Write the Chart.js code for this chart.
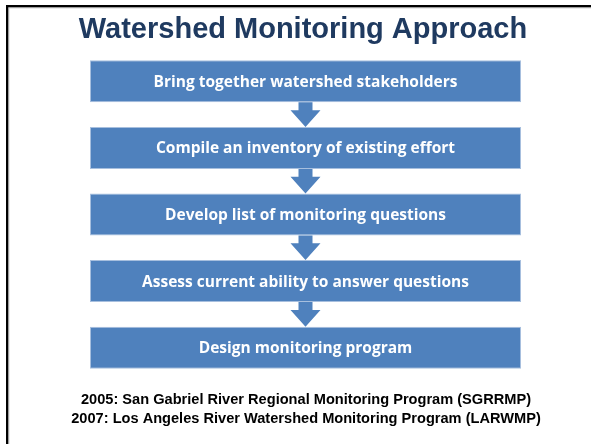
<!DOCTYPE html>
<html><head><meta charset="utf-8">
<script src="https://cdn.jsdelivr.net/npm/chart.js@4"></script>
<style>html,body{margin:0;padding:0;background:#fff}#wrap{width:591px;height:444px;position:relative}</style>
</head><body><div id="wrap"><canvas id="c" width="591" height="444"></canvas></div>
<script>
const title = "Watershed Monitoring Approach";
const steps = [
  "Bring together watershed stakeholders",
  "Compile an inventory of existing effort",
  "Develop list of monitoring questions",
  "Assess current ability to answer questions",
  "Design monitoring program"
];
const stepSpans = [[0,100],[0,100],[0,100],[0,100],[0,100]];
const footerLines = [
  "2005: San Gabriel River Regional Monitoring Program (SGRRMP)",
  "2007: Los Angeles River Watershed Monitoring Program (LARWMP)"
];

const decor = {
  id: 'decor',
  beforeDraw(chart){
    const ctx = chart.ctx;
    ctx.save();
    ctx.fillStyle = '#fff';
    ctx.fillRect(0,0,chart.width,chart.height);
    ctx.fillStyle = '#000';
    ctx.fillRect(6,5,chart.width-6,2.5);
    ctx.fillRect(6,5,2.5,chart.height-5);
    ctx.fillStyle = '#bbb';
    ctx.fillRect(8.5,7.5,chart.width-8.5,0.8);
    ctx.fillRect(8.5,7.5,0.8,chart.height-7.5);
    ctx.fillStyle = '#1F3A60';
    ctx.font = 'bold 29px "Liberation Sans", Arial, sans-serif';
    ctx.textAlign = 'center';
    ctx.textBaseline = 'middle';
    ctx.fillText(title, 303, 30);
    ctx.fillStyle = '#000';
    ctx.font = 'bold 14.6px "Liberation Sans", Arial, sans-serif';
    ctx.fillText(footerLines[0], 306, 400);
    ctx.fillText(footerLines[1], 306, 419);
    ctx.restore();
  },
  afterDatasetsDraw(chart){
    const ctx = chart.ctx;
    const meta = chart.getDatasetMeta(0);
    ctx.save();
    ctx.fillStyle = '#4F81BD';
    for (let i = 0; i < meta.data.length - 1; i++) {
      const a = meta.data[i], b = meta.data[i+1];
      const pa = a.getProps(['x','y','base','height'], true);
      const pb = b.getProps(['x','y','base','height'], true);
      const cx = (pa.x + pa.base) / 2;
      const top = pa.y + pa.height / 2;
      const bot = pb.y - pb.height / 2;
      const neck = top + (bot - top) * 0.32;
      ctx.beginPath();
      ctx.moveTo(cx - 7, top);
      ctx.lineTo(cx + 7, top);
      ctx.lineTo(cx + 7, neck);
      ctx.lineTo(cx + 15, neck);
      ctx.lineTo(cx, bot);
      ctx.lineTo(cx - 15, neck);
      ctx.lineTo(cx - 7, neck);
      ctx.closePath();
      ctx.fill();
    }
    ctx.fillStyle = '#fff';
    ctx.font = 'bold 15.5px "Open Sans", Lato, sans-serif';
    ctx.textAlign = 'center';
    ctx.textBaseline = 'middle';
    meta.data.forEach((el, i) => {
      const p = el.getProps(['x','y','base'], true);
      ctx.fillText(steps[i], (p.x + p.base) / 2, p.y + 1);
    });
    ctx.restore();
  }
};

new Chart(document.getElementById('c'), {
  type: 'bar',
  data: {
    labels: steps,
    datasets: [{
      data: stepSpans,
      backgroundColor: '#4F81BD',
      borderColor: '#A7BFDE',
      borderWidth: 1,
      borderSkipped: false,
      barPercentage: 0.63,
      categoryPercentage: 1
    }]
  },
  options: {
    indexAxis: 'y',
    responsive: false,
    animation: false,
    layout: { padding: { left: 90, right: 70, top: 48, bottom: 63 } },
    scales: {
      x: { display: false, min: 0, max: 100 },
      y: { display: false }
    },
    plugins: { legend: { display: false }, tooltip: { enabled: false }, title: { display: false } }
  },
  plugins: [decor]
});
</script></body></html>
